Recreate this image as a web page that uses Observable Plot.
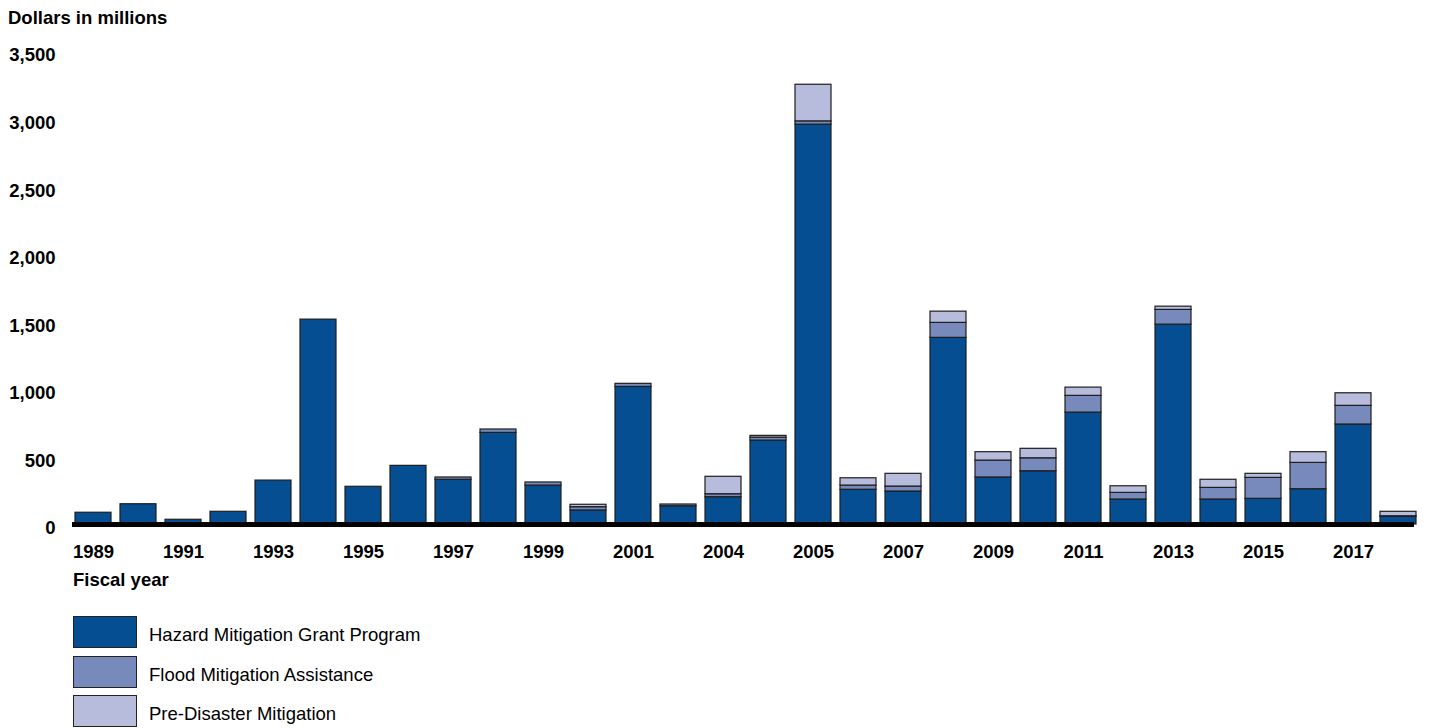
<!DOCTYPE html>
<html><head><meta charset="utf-8">
<script src="https://cdn.jsdelivr.net/npm/d3@7"></script>
<script src="https://cdn.jsdelivr.net/npm/@observablehq/plot@0.6"></script>
<style>
body{margin:0;background:#fff;font-family:"Liberation Sans",Arial,sans-serif;}
#wrap{position:relative;width:1429px;height:728px;overflow:hidden;background:#fff}
.t{position:absolute;font-size:18.5px;line-height:18px;white-space:nowrap;color:#000}
.b{font-weight:bold}
#chart{position:absolute;left:0;top:0}
#chart svg text{font-weight:bold}
.sw{position:absolute;left:73px;width:64px;height:32px;border:1.5px solid #222;box-sizing:border-box}
</style></head><body>
<div id="wrap">
<div id="chart"></div>
<div class="t b" style="left:8px;top:9px">Dollars in millions</div>
<div class="t b" style="left:73px;top:571px">Fiscal year</div>
<div id="legend"></div>
</div>
<script>
const years = [1989,1990,1991,1992,1993,1994,1995,1996,1997,1998,1999,2000,2001,2002,2003,2004,2005,2006,2007,2008,2009,2010,2011,2012,2013,2014,2015,2016,2017,2018];
const hmgp = [87,150,35,94,325,1516,279,434,331,678,288,104,1018,135,202,621,2959,257,244,1381,348,394,828,185,1479,185,190,261,740,58];
const fma  = [0,0,0,0,0,0,0,0,17,25,23,24,23,13,22,22,24,31,37,111,125,96,124,49,109,86,155,195,138,3];
const pdm  = [0,0,0,0,0,0,0,0,0,0,0,18,0,0,129,13,271,54,94,83,62,70,61,49,24,60,30,79,93,33];
const seriesNames = ["Hazard Mitigation Grant Program","Flood Mitigation Assistance","Pre-Disaster Mitigation"];
const seriesColors = ["#054e91","#7889bb","#b8bcdc"];
const yTicks = [0,500,1000,1500,2000,2500,3000,3500];
const tickYears = [1989,1991,1993,1995,1997,1999,2001,2003,2005,2007,2009,2011,2013,2015,2017];
const tickLabels = ["1989","1991","1993","1995","1997","1999","2001","2004","2005","2007","2009","2011","2013","2015","2017"];

const seriesValues = [hmgp, fma, pdm];
const rows = [];
years.forEach((yr, i) => {
  seriesNames.forEach((s, k) => {
    const v = seriesValues[k][i];
    if (v > 0) rows.push({year: yr, series: s, value: v});
  });
});

const chart = Plot.plot({
  width: 1429, height: 600,
  marginLeft: 65, marginRight: 3, marginTop: 51, marginBottom: 76,
  style: {fontFamily: '"Liberation Sans", Arial, sans-serif', fontSize: "18.5px", color: "#000", background: "transparent"},
  x: {type: "band", domain: years, padding: 0.19},
  y: {domain: [0, 3500]},
  color: {domain: seriesNames, range: seriesColors},
  marks: [
    Plot.barY(rows, {x: "year", y: "value", fill: "series", stroke: "#1e1e1e", strokeWidth: 1.2, order: seriesNames}),
    Plot.ruleY([0], {stroke: "#000", strokeWidth: 5, insetLeft: 7, insetRight: 12}),
    Plot.axisY({ticks: yTicks, tickFormat: d3.format(","), tickSize: 0, tickPadding: 10, dy: 4, label: null}),
    Plot.axisX({ticks: tickYears, tickFormat: d => tickLabels[tickYears.indexOf(d)], tickSize: 0, tickPadding: 20, label: null})
  ]
});
document.getElementById("chart").appendChild(chart);

const legend = document.getElementById("legend");
seriesNames.forEach((s, k) => {
  const top = 616 + k * 39.5;
  const sw = document.createElement("div");
  sw.className = "sw";
  sw.style.top = top + "px";
  sw.style.background = seriesColors[k];
  legend.appendChild(sw);
  const tx = document.createElement("div");
  tx.className = "t";
  tx.style.left = "149px";
  tx.style.top = (top + 10) + "px";
  tx.textContent = s;
  legend.appendChild(tx);
});
</script>
</body></html>
